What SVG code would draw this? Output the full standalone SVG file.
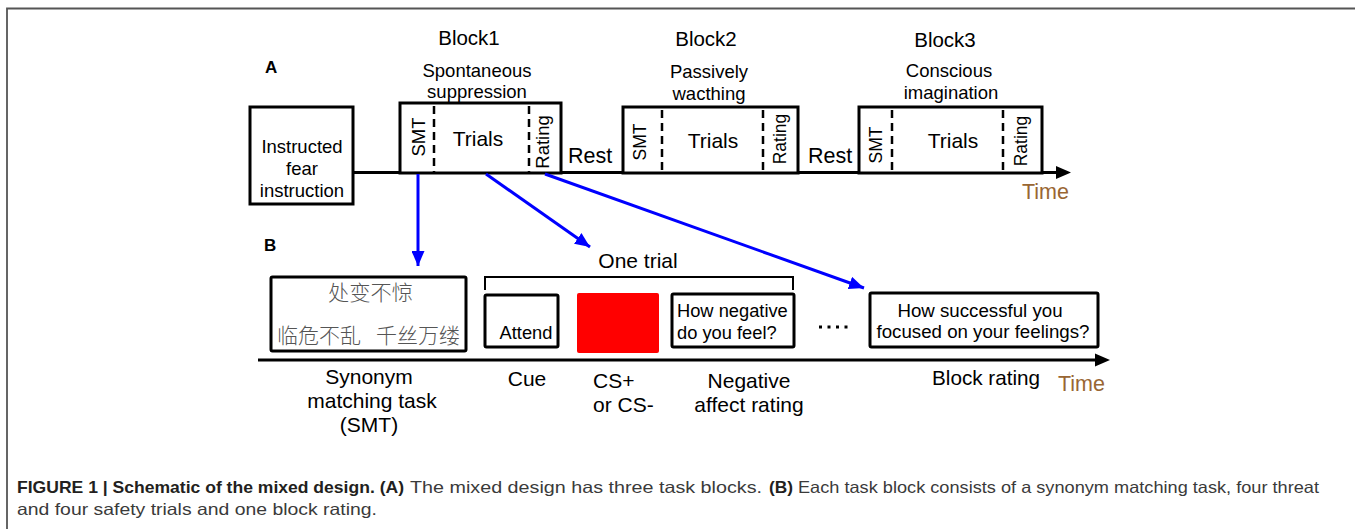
<svg xmlns="http://www.w3.org/2000/svg" width="1355" height="529" viewBox="0 0 1355 529">
<style>
.t{font-family:"Liberation Sans",Arial,sans-serif;fill:#000}
.box{fill:#fff;stroke:#000;stroke-width:3}
.dash{stroke:#000;stroke-width:2.5;stroke-dasharray:8 5;fill:none}
.line{stroke:#000;stroke-width:3;fill:none}
.blue{stroke:#0000ff;stroke-width:3;fill:none;marker-end:url(#bh)}
.time{font-family:"Liberation Sans",Arial,sans-serif;fill:#996633;font-size:21.5px}
.cap{font-family:"Liberation Sans Narrow","Liberation Sans",Arial,sans-serif;font-size:16.5px;fill:#3a3a3a}
.capb{font-family:"Liberation Sans Narrow","Liberation Sans",Arial,sans-serif;font-size:16.5px;fill:#231f20;font-weight:bold}
.cjk{font-family:"Noto Sans CJK SC","Noto Sans CJK JP",sans-serif;font-size:21px;fill:#555;font-weight:300}
</style>
<defs>
<marker id="bh" markerUnits="userSpaceOnUse" markerWidth="15" markerHeight="13" refX="15" refY="6.5" orient="auto">
<path d="M0,0 L15,6.5 L0,13 z" fill="#0000ff"/>
</marker>
</defs>
<rect x="0" y="0" width="1355" height="529" fill="#fff"/>
<path d="M7,529 V8.5 H1355" fill="none" stroke="#555" stroke-width="1.8"/>

<!-- Panel A -->
<text class="t" x="265" y="72.5" font-size="17" font-weight="bold">A</text>

<g id="instructed">
<rect class="box" x="250" y="107" width="103" height="97"/>
<text class="t" x="302" y="153" font-size="18.5" text-anchor="middle">Instructed</text>
<text class="t" x="302" y="175" font-size="18.5" text-anchor="middle">fear</text>
<text class="t" x="302" y="197" font-size="18.5" text-anchor="middle">instruction</text>
</g>

<g id="timelineA">
<path class="line" d="M353,172.5 H1057"/>
<path d="M1056,166 L1071,172.5 L1056,179 z" fill="#000"/>
<text class="time" x="1022" y="198.5">Time</text>
</g>

<g id="block1">
<text class="t" x="469" y="45" font-size="20.5" text-anchor="middle">Block1</text>
<text class="t" x="477" y="76.5" font-size="18.5" text-anchor="middle">Spontaneous</text>
<text class="t" x="477" y="98" font-size="18.5" text-anchor="middle">suppression</text>
<rect class="box" x="400" y="103" width="161" height="70"/>
<path class="dash" d="M434,106 V172"/>
<path class="dash" d="M529,106 V172"/>
<text class="t" font-size="18.5" text-anchor="middle" dominant-baseline="central" transform="translate(418,137) rotate(-90)">SMT</text>
<text class="t" x="478" y="146" font-size="21" text-anchor="middle">Trials</text>
<text class="t" font-size="18.5" text-anchor="middle" dominant-baseline="central" transform="translate(542,142) rotate(-90)">Rating</text>
</g>

<text class="t" x="568" y="163" font-size="21.5">Rest</text>

<g id="block2">
<text class="t" x="706" y="46" font-size="20.5" text-anchor="middle">Block2</text>
<text class="t" x="709" y="78" font-size="18.5" text-anchor="middle">Passively</text>
<text class="t" x="709" y="100" font-size="18.5" text-anchor="middle">wacthing</text>
<rect class="box" x="623" y="107" width="175" height="66"/>
<path class="dash" d="M662,110 V172"/>
<path class="dash" d="M763,110 V172"/>
<text class="t" font-size="17.5" text-anchor="middle" dominant-baseline="central" transform="translate(640,142) rotate(-90)">SMT</text>
<text class="t" x="713" y="148" font-size="21" text-anchor="middle">Trials</text>
<text class="t" font-size="17.5" text-anchor="middle" dominant-baseline="central" transform="translate(780,139) rotate(-90)">Rating</text>
</g>

<text class="t" x="808" y="163" font-size="21.5">Rest</text>

<g id="block3">
<text class="t" x="945" y="47" font-size="20.5" text-anchor="middle">Block3</text>
<text class="t" x="949" y="76.5" font-size="18.5" text-anchor="middle">Conscious</text>
<text class="t" x="951" y="98.5" font-size="18.5" text-anchor="middle">imagination</text>
<rect class="box" x="859" y="107" width="183" height="66"/>
<path class="dash" d="M892,110 V172"/>
<path class="dash" d="M1003,110 V172"/>
<text class="t" font-size="17.5" text-anchor="middle" dominant-baseline="central" transform="translate(876,145) rotate(-90)">SMT</text>
<text class="t" x="953" y="148" font-size="21" text-anchor="middle">Trials</text>
<text class="t" font-size="17.5" text-anchor="middle" dominant-baseline="central" transform="translate(1021,141) rotate(-90)">Rating</text>
</g>

<!-- connectors -->
<g id="connectors">
<path class="blue" d="M418,174 L418,266"/>
<path class="blue" d="M486,174 L590,247"/>
<path class="blue" d="M545,174 L864,288"/>
</g>

<!-- Panel B -->
<text class="t" x="264" y="251" font-size="17" font-weight="bold">B</text>

<g id="smt">
<rect class="box" x="271" y="277" width="195" height="74" rx="1.5"/>
<text class="cjk" x="328" y="300" textLength="85" lengthAdjust="spacingAndGlyphs">处变不惊</text>
<text class="cjk" x="277" y="343" textLength="84" lengthAdjust="spacingAndGlyphs">临危不乱</text>
<text class="cjk" x="376" y="343" textLength="84" lengthAdjust="spacingAndGlyphs">千丝万缕</text>
<text class="t" x="369" y="384" font-size="21" text-anchor="middle">Synonym</text>
<text class="t" x="372" y="408" font-size="21" text-anchor="middle">matching task</text>
<text class="t" x="369" y="432" font-size="21" text-anchor="middle">(SMT)</text>
</g>

<g id="trial">
<path d="M485,290 V277 H793 V290" fill="none" stroke="#000" stroke-width="2"/>
<text class="t" x="638" y="268" font-size="21" text-anchor="middle">One trial</text>
</g>

<g id="cue">
<rect class="box" x="485" y="295" width="73" height="52" rx="1.5"/>
<text class="t" x="526" y="339" font-size="18.3" text-anchor="middle">Attend</text>
<text class="t" x="527" y="386" font-size="21" text-anchor="middle">Cue</text>
</g>

<g id="cs">
<rect x="577" y="293" width="82" height="60" rx="2" fill="#ff0000"/>
<text class="t" x="593" y="388" font-size="21">CS+</text>
<text class="t" x="593" y="412" font-size="21">or CS-</text>
</g>

<g id="negative">
<rect class="box" x="672" y="294" width="122" height="53" rx="1.5"/>
<text class="t" x="677" y="316.5" font-size="18.3">How negative</text>
<text class="t" x="677" y="338.5" font-size="18.3">do you feel?</text>
<text class="t" x="749" y="388" font-size="21" text-anchor="middle">Negative</text>
<text class="t" x="749" y="412" font-size="21" text-anchor="middle">affect rating</text>
</g>

<path d="M819,327 H848" stroke="#000" stroke-width="3" stroke-dasharray="3 5.5"/>

<g id="blockrating">
<rect class="box" x="870" y="293" width="228" height="54" rx="1.5"/>
<text class="t" x="980" y="316.5" font-size="18.7" text-anchor="middle">How successful you</text>
<text class="t" x="983" y="338" font-size="18.7" text-anchor="middle">focused on your feelings?</text>
<text class="t" x="932" y="385" font-size="20.7">Block rating</text>
</g>

<g id="timelineB">
<path class="line" d="M258,360 H1096"/>
<path d="M1095,353.5 L1110,360 L1095,366.5 z" fill="#000"/>
<text class="time" x="1058" y="391">Time</text>
</g>

<!-- caption -->
<text class="capb" x="17" y="493" textLength="387" lengthAdjust="spacingAndGlyphs">FIGURE 1 | Schematic of the mixed design. (A)</text>
<text class="cap" x="410" y="493" textLength="352" lengthAdjust="spacingAndGlyphs">The mixed design has three task blocks.</text>
<text class="capb" x="769" y="493" textLength="24" lengthAdjust="spacingAndGlyphs">(B)</text>
<text class="cap" x="798" y="493" textLength="521" lengthAdjust="spacingAndGlyphs">Each task block consists of a synonym matching task, four threat</text>
<text class="cap" x="17" y="515" textLength="360" lengthAdjust="spacingAndGlyphs">and four safety trials and one block rating.</text>
</svg>
